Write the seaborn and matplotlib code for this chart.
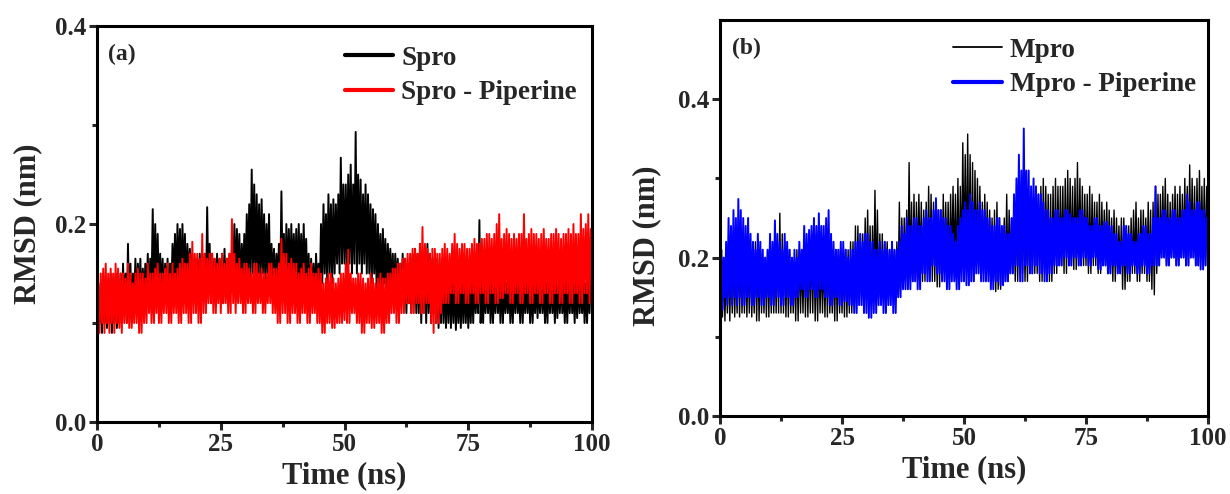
import numpy as np
import pandas as pd
import matplotlib
matplotlib.use("Agg")
import matplotlib.pyplot as plt
import seaborn as sns

# -------------------- DATA (0.25 ns steps) --------------------
time_ns = np.linspace(0, 100, 401)

# one row = 5 ns
spro = [
    0.03, 0.12, 0.10, 0.14, 0.09, 0.15, 0.10, 0.13, 0.095, 0.14, 0.10, 0.15, 0.09, 0.14, 0.10, 0.15, 0.095, 0.13, 0.10, 0.15,
    0.10, 0.16, 0.11, 0.15, 0.10, 0.18, 0.11, 0.16, 0.10, 0.15, 0.12, 0.165, 0.11, 0.16, 0.12, 0.165, 0.11, 0.155, 0.12, 0.16,
    0.13, 0.17, 0.12, 0.165, 0.13, 0.215, 0.12, 0.20, 0.13, 0.19, 0.12, 0.17, 0.13, 0.165, 0.12, 0.16, 0.13, 0.165, 0.12, 0.16,
    0.13, 0.18, 0.14, 0.19, 0.13, 0.20, 0.14, 0.195, 0.13, 0.20, 0.14, 0.19, 0.13, 0.18, 0.14, 0.175, 0.13, 0.17, 0.12, 0.165,
    0.12, 0.165, 0.13, 0.17, 0.12, 0.16, 0.13, 0.17, 0.12, 0.217, 0.13, 0.18, 0.12, 0.17, 0.13, 0.165, 0.12, 0.17, 0.13, 0.165,
    0.13, 0.17, 0.12, 0.175, 0.13, 0.165, 0.12, 0.17, 0.13, 0.175, 0.14, 0.20, 0.13, 0.195, 0.14, 0.19, 0.13, 0.18, 0.14, 0.19,
    0.14, 0.21, 0.15, 0.22, 0.14, 0.255, 0.15, 0.24, 0.14, 0.23, 0.15, 0.22, 0.14, 0.225, 0.15, 0.21, 0.14, 0.20, 0.15, 0.21,
    0.13, 0.18, 0.14, 0.175, 0.13, 0.17, 0.14, 0.18, 0.13, 0.233, 0.14, 0.19, 0.13, 0.20, 0.14, 0.195, 0.13, 0.20, 0.14, 0.19,
    0.14, 0.195, 0.13, 0.20, 0.14, 0.19, 0.13, 0.20, 0.14, 0.185, 0.13, 0.17, 0.12, 0.165, 0.13, 0.16, 0.12, 0.17, 0.13, 0.16,
    0.13, 0.20, 0.14, 0.22, 0.15, 0.21, 0.14, 0.23, 0.15, 0.22, 0.14, 0.225, 0.15, 0.22, 0.16, 0.23, 0.15, 0.267, 0.16, 0.24,
    0.16, 0.24, 0.15, 0.25, 0.16, 0.26, 0.15, 0.24, 0.16, 0.293, 0.15, 0.25, 0.16, 0.245, 0.15, 0.23, 0.16, 0.24, 0.15, 0.23,
    0.15, 0.22, 0.14, 0.215, 0.15, 0.21, 0.13, 0.20, 0.14, 0.19, 0.13, 0.195, 0.14, 0.185, 0.13, 0.18, 0.14, 0.175, 0.13, 0.17,
    0.12, 0.17, 0.13, 0.165, 0.12, 0.16, 0.13, 0.17, 0.12, 0.165, 0.11, 0.16, 0.12, 0.165, 0.11, 0.17, 0.12, 0.175, 0.11, 0.17,
    0.11, 0.18, 0.10, 0.17, 0.11, 0.175, 0.10, 0.18, 0.11, 0.17, 0.10, 0.165, 0.11, 0.17, 0.10, 0.165, 0.095, 0.16, 0.10, 0.165,
    0.10, 0.15, 0.095, 0.155, 0.10, 0.16, 0.095, 0.15, 0.10, 0.15, 0.093, 0.145, 0.10, 0.14, 0.095, 0.15, 0.10, 0.15, 0.10, 0.145,
    0.095, 0.14, 0.10, 0.145, 0.10, 0.15, 0.11, 0.14, 0.11, 0.204, 0.10, 0.15, 0.10, 0.14, 0.11, 0.145, 0.11, 0.15, 0.10, 0.14,
    0.10, 0.14, 0.11, 0.15, 0.11, 0.145, 0.10, 0.15, 0.10, 0.145, 0.11, 0.14, 0.11, 0.15, 0.10, 0.14, 0.10, 0.15, 0.11, 0.145,
    0.11, 0.14, 0.10, 0.15, 0.10, 0.145, 0.11, 0.14, 0.11, 0.15, 0.10, 0.145, 0.10, 0.14, 0.11, 0.15, 0.105, 0.145, 0.11, 0.15,
    0.11, 0.145, 0.10, 0.14, 0.10, 0.15, 0.11, 0.145, 0.11, 0.14, 0.10, 0.15, 0.105, 0.145, 0.11, 0.15, 0.11, 0.14, 0.10, 0.145,
    0.10, 0.15, 0.11, 0.145, 0.11, 0.14, 0.10, 0.15, 0.105, 0.15, 0.11, 0.14, 0.11, 0.145, 0.10, 0.14, 0.10, 0.145, 0.11, 0.15,
    0.12,
]

spro_pip = [
    0.07, 0.14, 0.09, 0.15, 0.10, 0.155, 0.09, 0.16, 0.10, 0.15, 0.09, 0.155, 0.10, 0.15, 0.09, 0.16, 0.10, 0.155, 0.095, 0.15,
    0.09, 0.15, 0.10, 0.145, 0.10, 0.16, 0.095, 0.15, 0.095, 0.14, 0.10, 0.15, 0.10, 0.155, 0.09, 0.15, 0.09, 0.15, 0.10, 0.145,
    0.10, 0.16, 0.11, 0.15, 0.10, 0.15, 0.10, 0.155, 0.11, 0.16, 0.10, 0.15, 0.10, 0.15, 0.11, 0.155, 0.11, 0.16, 0.10, 0.15,
    0.10, 0.16, 0.11, 0.15, 0.11, 0.155, 0.10, 0.16, 0.10, 0.165, 0.11, 0.16, 0.11, 0.16, 0.10, 0.17, 0.10, 0.182, 0.11, 0.17,
    0.11, 0.17, 0.10, 0.165, 0.10, 0.19, 0.11, 0.17, 0.11, 0.165, 0.12, 0.17, 0.12, 0.17, 0.11, 0.165, 0.11, 0.16, 0.12, 0.165,
    0.11, 0.17, 0.12, 0.16, 0.12, 0.165, 0.11, 0.17, 0.11, 0.205, 0.12, 0.17, 0.11, 0.16, 0.12, 0.165, 0.12, 0.155, 0.11, 0.16,
    0.11, 0.16, 0.12, 0.155, 0.12, 0.15, 0.11, 0.16, 0.11, 0.16, 0.12, 0.15, 0.12, 0.155, 0.11, 0.15, 0.11, 0.15, 0.12, 0.16,
    0.12, 0.16, 0.11, 0.155, 0.11, 0.155, 0.10, 0.16, 0.10, 0.185, 0.11, 0.17, 0.11, 0.17, 0.10, 0.16, 0.10, 0.165, 0.11, 0.16,
    0.11, 0.16, 0.10, 0.15, 0.10, 0.155, 0.11, 0.16, 0.11, 0.15, 0.10, 0.155, 0.10, 0.16, 0.11, 0.15, 0.11, 0.15, 0.10, 0.155,
    0.10, 0.15, 0.09, 0.14, 0.09, 0.145, 0.10, 0.15, 0.10, 0.15, 0.095, 0.145, 0.095, 0.14, 0.10, 0.145, 0.10, 0.15, 0.10, 0.15,
    0.103, 0.16, 0.10, 0.174, 0.10, 0.15, 0.11, 0.145, 0.11, 0.145, 0.10, 0.15, 0.10, 0.15, 0.09, 0.145, 0.09, 0.14, 0.10, 0.145,
    0.10, 0.15, 0.095, 0.145, 0.095, 0.14, 0.10, 0.145, 0.10, 0.15, 0.09, 0.145, 0.09, 0.145, 0.10, 0.15, 0.10, 0.15, 0.11, 0.155,
    0.11, 0.155, 0.10, 0.16, 0.10, 0.16, 0.11, 0.165, 0.11, 0.165, 0.12, 0.17, 0.12, 0.17, 0.11, 0.175, 0.11, 0.175, 0.12, 0.17,
    0.12, 0.18, 0.11, 0.197, 0.11, 0.18, 0.12, 0.175, 0.12, 0.17, 0.10, 0.175, 0.09, 0.175, 0.10, 0.17, 0.10, 0.17, 0.11, 0.175,
    0.12, 0.18, 0.12, 0.175, 0.12, 0.17, 0.13, 0.18, 0.13, 0.19, 0.12, 0.18, 0.12, 0.175, 0.13, 0.18, 0.13, 0.18, 0.12, 0.175,
    0.12, 0.175, 0.13, 0.18, 0.13, 0.185, 0.12, 0.18, 0.12, 0.18, 0.13, 0.185, 0.13, 0.185, 0.12, 0.19, 0.12, 0.19, 0.13, 0.185,
    0.13, 0.19, 0.12, 0.20, 0.12, 0.21, 0.125, 0.185, 0.125, 0.19, 0.13, 0.195, 0.13, 0.19, 0.12, 0.185, 0.12, 0.19, 0.13, 0.185,
    0.13, 0.19, 0.12, 0.19, 0.12, 0.21, 0.13, 0.185, 0.13, 0.19, 0.12, 0.195, 0.12, 0.19, 0.13, 0.19, 0.13, 0.185, 0.12, 0.19,
    0.12, 0.195, 0.13, 0.185, 0.13, 0.185, 0.12, 0.19, 0.12, 0.19, 0.13, 0.195, 0.13, 0.19, 0.12, 0.185, 0.12, 0.19, 0.13, 0.19,
    0.13, 0.195, 0.12, 0.19, 0.12, 0.20, 0.13, 0.19, 0.13, 0.19, 0.12, 0.21, 0.12, 0.195, 0.13, 0.20, 0.13, 0.21, 0.12, 0.195,
    0.15,
]

mpro = [
    0.03, 0.17, 0.125, 0.20, 0.12, 0.19, 0.13, 0.20, 0.12, 0.21, 0.13, 0.20, 0.125, 0.19, 0.13, 0.21, 0.125, 0.20, 0.13, 0.20,
    0.13, 0.21, 0.125, 0.20, 0.13, 0.21, 0.125, 0.20, 0.13, 0.22, 0.12, 0.21, 0.12, 0.21, 0.13, 0.20, 0.13, 0.20, 0.125, 0.21,
    0.125, 0.22, 0.13, 0.21, 0.13, 0.21, 0.13, 0.22, 0.13, 0.256, 0.13, 0.23, 0.13, 0.22, 0.125, 0.21, 0.125, 0.21, 0.13, 0.20,
    0.13, 0.20, 0.12, 0.21, 0.12, 0.21, 0.13, 0.20, 0.13, 0.22, 0.125, 0.21, 0.125, 0.21, 0.13, 0.22, 0.13, 0.22, 0.12, 0.21,
    0.12, 0.21, 0.13, 0.20, 0.13, 0.20, 0.125, 0.21, 0.125, 0.21, 0.13, 0.20, 0.13, 0.20, 0.12, 0.21, 0.12, 0.21, 0.13, 0.20,
    0.13, 0.20, 0.125, 0.21, 0.125, 0.21, 0.13, 0.22, 0.13, 0.22, 0.14, 0.24, 0.14, 0.24, 0.15, 0.23, 0.15, 0.23, 0.16, 0.25,
    0.16, 0.26, 0.15, 0.24, 0.15, 0.24, 0.16, 0.285, 0.16, 0.26, 0.15, 0.23, 0.15, 0.23, 0.16, 0.22, 0.16, 0.22, 0.16, 0.21,
    0.16, 0.22, 0.17, 0.21, 0.17, 0.22, 0.16, 0.27, 0.16, 0.25, 0.17, 0.25, 0.17, 0.26, 0.18, 0.32, 0.18, 0.27, 0.17, 0.28,
    0.17, 0.27, 0.19, 0.28, 0.19, 0.27, 0.17, 0.26, 0.17, 0.27, 0.18, 0.29, 0.18, 0.28, 0.17, 0.27, 0.17, 0.26, 0.163, 0.26,
    0.163, 0.26, 0.18, 0.28, 0.18, 0.27, 0.18, 0.27, 0.18, 0.28, 0.19, 0.29, 0.19, 0.28, 0.18, 0.30, 0.18, 0.29, 0.19, 0.345,
    0.20, 0.33, 0.19, 0.356, 0.19, 0.33, 0.17, 0.32, 0.17, 0.31, 0.19, 0.30, 0.19, 0.29, 0.18, 0.27, 0.18, 0.28, 0.18, 0.27,
    0.18, 0.26, 0.17, 0.25, 0.17, 0.26, 0.157, 0.27, 0.16, 0.25, 0.16, 0.24, 0.17, 0.25, 0.17, 0.28, 0.17, 0.26, 0.18, 0.25,
    0.18, 0.25, 0.17, 0.26, 0.17, 0.25, 0.18, 0.27, 0.18, 0.26, 0.17, 0.25, 0.17, 0.26, 0.18, 0.26, 0.18, 0.27, 0.18, 0.28,
    0.18, 0.28, 0.17, 0.29, 0.17, 0.30, 0.18, 0.29, 0.18, 0.28, 0.17, 0.28, 0.17, 0.29, 0.18, 0.30, 0.18, 0.29, 0.19, 0.29,
    0.19, 0.29, 0.18, 0.30, 0.18, 0.31, 0.19, 0.30, 0.19, 0.29, 0.185, 0.30, 0.185, 0.32, 0.19, 0.30, 0.19, 0.29, 0.19, 0.28,
    0.19, 0.28, 0.18, 0.29, 0.18, 0.28, 0.19, 0.27, 0.19, 0.27, 0.18, 0.28, 0.18, 0.27, 0.19, 0.26, 0.19, 0.27, 0.18, 0.26,
    0.18, 0.25, 0.17, 0.26, 0.17, 0.25, 0.18, 0.24, 0.18, 0.25, 0.16, 0.25, 0.16, 0.24, 0.17, 0.24, 0.17, 0.25, 0.18, 0.26,
    0.18, 0.27, 0.17, 0.25, 0.17, 0.26, 0.18, 0.26, 0.18, 0.25, 0.17, 0.27, 0.17, 0.26, 0.16, 0.27, 0.153, 0.29, 0.18, 0.28,
    0.19, 0.28, 0.20, 0.29, 0.20, 0.30, 0.19, 0.28, 0.19, 0.27, 0.20, 0.28, 0.20, 0.29, 0.19, 0.28, 0.19, 0.29, 0.20, 0.28,
    0.20, 0.30, 0.19, 0.29, 0.19, 0.317, 0.20, 0.30, 0.20, 0.29, 0.19, 0.30, 0.19, 0.31, 0.20, 0.29, 0.20, 0.30, 0.19, 0.29,
    0.27,
]

mpro_pip = [
    0.03, 0.21, 0.134, 0.20, 0.15, 0.22, 0.14, 0.25, 0.15, 0.24, 0.14, 0.26, 0.15, 0.25, 0.14, 0.274, 0.15, 0.26, 0.14, 0.25,
    0.14, 0.24, 0.15, 0.25, 0.15, 0.23, 0.14, 0.22, 0.14, 0.21, 0.15, 0.23, 0.15, 0.22, 0.14, 0.21, 0.14, 0.20, 0.15, 0.21,
    0.15, 0.23, 0.14, 0.22, 0.14, 0.247, 0.15, 0.23, 0.15, 0.22, 0.14, 0.21, 0.14, 0.23, 0.15, 0.22, 0.15, 0.21, 0.14, 0.20,
    0.14, 0.21, 0.15, 0.20, 0.15, 0.22, 0.16, 0.21, 0.16, 0.24, 0.15, 0.23, 0.15, 0.235, 0.16, 0.24, 0.16, 0.25, 0.15, 0.24,
    0.15, 0.256, 0.16, 0.24, 0.16, 0.24, 0.15, 0.25, 0.15, 0.26, 0.14, 0.23, 0.14, 0.22, 0.15, 0.21, 0.15, 0.21, 0.14, 0.22,
    0.14, 0.22, 0.145, 0.21, 0.145, 0.20, 0.14, 0.21, 0.14, 0.21, 0.13, 0.22, 0.13, 0.22, 0.14, 0.23, 0.14, 0.22, 0.13, 0.23,
    0.13, 0.23, 0.124, 0.22, 0.124, 0.22, 0.13, 0.21, 0.13, 0.21, 0.14, 0.22, 0.14, 0.21, 0.13, 0.22, 0.13, 0.21, 0.14, 0.21,
    0.14, 0.22, 0.13, 0.21, 0.13, 0.21, 0.15, 0.22, 0.15, 0.24, 0.16, 0.23, 0.16, 0.25, 0.16, 0.24, 0.16, 0.24, 0.17, 0.25,
    0.17, 0.25, 0.16, 0.24, 0.16, 0.24, 0.18, 0.25, 0.18, 0.26, 0.17, 0.25, 0.17, 0.25, 0.19, 0.26, 0.19, 0.275, 0.18, 0.26,
    0.18, 0.26, 0.17, 0.25, 0.17, 0.25, 0.16, 0.24, 0.16, 0.24, 0.17, 0.23, 0.17, 0.22, 0.16, 0.24, 0.16, 0.25, 0.17, 0.26,
    0.17, 0.27, 0.165, 0.26, 0.165, 0.28, 0.17, 0.27, 0.17, 0.26, 0.18, 0.26, 0.18, 0.27, 0.17, 0.26, 0.17, 0.26, 0.17, 0.25,
    0.17, 0.25, 0.16, 0.24, 0.16, 0.24, 0.17, 0.25, 0.17, 0.25, 0.165, 0.24, 0.165, 0.24, 0.17, 0.23, 0.17, 0.23, 0.18, 0.25,
    0.18, 0.28, 0.19, 0.30, 0.19, 0.33, 0.17, 0.31, 0.17, 0.363, 0.19, 0.31, 0.19, 0.31, 0.18, 0.29, 0.18, 0.30, 0.19, 0.29,
    0.19, 0.28, 0.18, 0.28, 0.18, 0.27, 0.17, 0.26, 0.17, 0.26, 0.18, 0.25, 0.18, 0.25, 0.19, 0.26, 0.19, 0.26, 0.19, 0.25,
    0.19, 0.25, 0.20, 0.26, 0.20, 0.26, 0.19, 0.255, 0.19, 0.25, 0.20, 0.25, 0.20, 0.25, 0.19, 0.26, 0.19, 0.26, 0.20, 0.25,
    0.20, 0.25, 0.19, 0.24, 0.19, 0.24, 0.20, 0.25, 0.20, 0.25, 0.185, 0.24, 0.185, 0.24, 0.19, 0.245, 0.19, 0.245, 0.18, 0.24,
    0.18, 0.24, 0.19, 0.23, 0.19, 0.23, 0.18, 0.22, 0.18, 0.22, 0.19, 0.24, 0.19, 0.24, 0.18, 0.23, 0.18, 0.23, 0.19, 0.22,
    0.19, 0.22, 0.18, 0.23, 0.18, 0.23, 0.19, 0.24, 0.19, 0.24, 0.18, 0.23, 0.18, 0.23, 0.19, 0.25, 0.19, 0.29, 0.19, 0.25,
    0.19, 0.25, 0.20, 0.26, 0.20, 0.26, 0.19, 0.25, 0.19, 0.25, 0.20, 0.26, 0.20, 0.26, 0.19, 0.25, 0.19, 0.25, 0.20, 0.26,
    0.20, 0.26, 0.19, 0.28, 0.19, 0.27, 0.20, 0.26, 0.20, 0.26, 0.19, 0.27, 0.19, 0.27, 0.185, 0.26, 0.185, 0.26, 0.19, 0.25,
    0.22,
]

# -------------------- STYLE --------------------
sns.set_style("ticks")
plt.rcParams["font.family"] = ["Liberation Serif", "DejaVu Serif"]
plt.rcParams["font.weight"] = "bold"
plt.rcParams["axes.labelweight"] = "bold"

fig = plt.figure(figsize=(12.3, 4.94), dpi=100)
ax_a = fig.add_axes([0.0789, 0.1457, 0.4024, 0.8016])
ax_b = fig.add_axes([0.5854, 0.1579, 0.3967, 0.8016])


def style_axes(ax, ymax, yticks):
    ax.set_xlim(0, 100)
    ax.set_ylim(0, ymax)
    ax.set_xticks([0, 25, 50, 75, 100])
    ax.set_xticks([12.5, 37.5, 62.5, 87.5], minor=True)
    ax.set_yticks(yticks)
    ax.set_yticks([0.1, 0.3], minor=True)
    ax.set_yticklabels([f"{v:.1f}" for v in yticks])
    for s in ax.spines.values():
        s.set_visible(True)
        s.set_linewidth(2.2)
        s.set_color("black")
    ax.tick_params(which="major", direction="out", length=6, width=2.2,
                   labelsize=18, pad=2, top=False, right=False)
    ax.tick_params(which="minor", direction="out", length=3.5, width=2.2,
                   top=False, right=False)
    ax.set_xlabel("Time (ns)", fontsize=22, fontweight="bold", labelpad=4)
    ax.set_ylabel("RMSD (nm)", fontsize=22, fontweight="bold")


# -------------------- PANEL (a) --------------------
df_a = pd.DataFrame({"time": time_ns, "Spro": spro, "Spro - Piperine": spro_pip})
sns.lineplot(data=df_a, x="time", y="Spro", ax=ax_a, color="black",
             linewidth=1.4, errorbar=None, label="Spro")
sns.lineplot(data=df_a, x="time", y="Spro - Piperine", ax=ax_a, color="red",
             linewidth=1.4, errorbar=None, label="Spro - Piperine")
style_axes(ax_a, 0.4, [0.0, 0.2, 0.4])
ax_a.yaxis.set_label_coords(-0.11, 0.5)
leg = ax_a.legend(loc="upper left", bbox_to_anchor=(0.50, 0.95), frameon=False,
                  fontsize=19.5, handlelength=1.8, handletextpad=0.3,
                  labelspacing=0.35, borderpad=0, borderaxespad=0)
for h in leg.get_lines():
    h.set_linewidth(3)
ax_a.text(0.022, 0.955, "(a)", transform=ax_a.transAxes, fontsize=17,
          fontweight="bold", va="top", ha="left")

# -------------------- PANEL (b) --------------------
df_b = pd.DataFrame({"time": time_ns, "Mpro": mpro, "Mpro - Piperine": mpro_pip})
sns.lineplot(data=df_b, x="time", y="Mpro", ax=ax_b, color="black",
             linewidth=1.0, errorbar=None, label="Mpro")
sns.lineplot(data=df_b, x="time", y="Mpro - Piperine", ax=ax_b, color="blue",
             linewidth=1.4, errorbar=None, label="Mpro - Piperine")
style_axes(ax_b, 0.5, [0.0, 0.2, 0.4])
ax_b.yaxis.set_label_coords(-0.12, 0.43)
leg = ax_b.legend(loc="upper left", bbox_to_anchor=(0.477, 0.955), frameon=False,
                  fontsize=19.5, handlelength=1.8, handletextpad=0.3,
                  labelspacing=0.35, borderpad=0, borderaxespad=0)
lw = [1.3, 3]
for h, w in zip(leg.get_lines(), lw):
    h.set_linewidth(w)
ax_b.text(0.025, 0.955, "(b)", transform=ax_b.transAxes, fontsize=17,
          fontweight="bold", va="top", ha="left")

fig.savefig("out.png", dpi=100)
